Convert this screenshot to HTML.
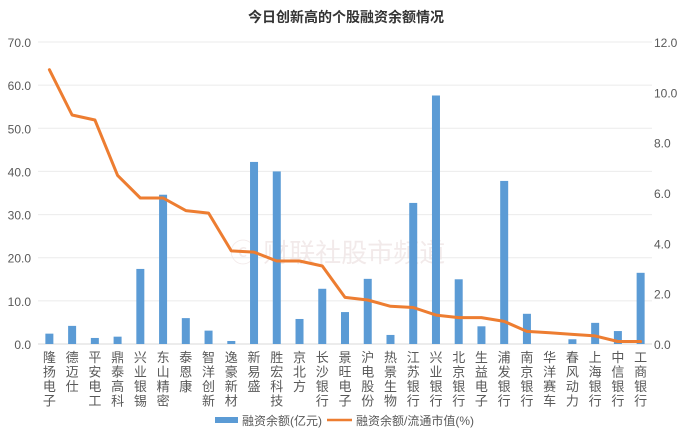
<!DOCTYPE html>
<html><head><meta charset="utf-8">
<style>
body{margin:0;background:#fff;}
svg{display:block;font-family:"Liberation Sans","Noto Sans CJK SC",sans-serif;}
</style></head>
<body>
<svg id="chart" width="693" height="437" viewBox="0 0 693 437">
<rect width="693" height="437" fill="#fff"/>
<text x="346" y="22" text-anchor="middle" font-size="14" font-weight="bold" fill="#333">今日创新高的个股融资余额情况</text>
<g id="grid"></g>
<text x="230" y="262" font-size="26" fill="#f0e6e6" opacity="0.8">ⓒ 财联社股市频道</text>
<g id="bars"></g>
<g id="line"></g>
<g id="xlabels"></g>
<g>
<rect x="215" y="417" width="23" height="6" fill="#5b9bd5"/>
<text x="242" y="425" font-size="12" fill="#595959">融资余额(亿元)</text>
<line x1="327" y1="420" x2="352" y2="420" stroke="#ed7d31" stroke-width="2.5"/>
<text x="356" y="425" font-size="12" fill="#595959">融资余额/流通市值(%)</text>
</g>
</svg>
<script>
const categories=["隆扬电子","德迈仕","平安电工","鼎泰高科","兴业银锡","东山精密","泰恩康","智洋创新","逸豪新材","新易盛","胜宏科技","京北方","长沙银行","景旺电子","沪电股份","热景生物","江苏银行","兴业银行","北京银行","生益电子","浦发银行","南京银行","华洋赛车","春风动力","上海银行","中信银行","工商银行"];
const balance=[2.4,4.2,1.4,1.7,17.4,34.6,6.0,3.1,0.7,42.2,40.0,5.8,12.8,7.4,15.1,2.1,32.7,57.6,15.0,4.1,37.8,7.0,0,1.1,4.9,3.0,16.5];
const ratio=[10.9,9.1,8.9,6.7,5.8,5.8,5.3,5.2,3.7,3.65,3.3,3.3,3.1,1.85,1.75,1.5,1.45,1.15,1.05,1.05,0.9,0.5,0.45,0.38,0.32,0.1,0.1];
const leftTicks=["0.0","10.0","20.0","30.0","40.0","50.0","60.0","70.0"];
const rightTicks=["0.0","2.0","4.0","6.0","8.0","10.0","12.0"];
const NS="http://www.w3.org/2000/svg";
const yTop=42,yBottom=344,x0=38,x1=652;
const yL=v=>yBottom-(v/70)*(yBottom-yTop);
const yR=v=>yBottom-(v/12)*(yBottom-yTop);
const step=(x1-x0)/categories.length;
const xC=i=>x0+step*(i+0.5);
function mk(tag,attrs,parent){const e=document.createElementNS(NS,tag);for(const k in attrs)e.setAttribute(k,attrs[k]);parent.appendChild(e);return e;}
const grid=document.getElementById('grid');
leftTicks.forEach((t,i)=>{
  const v=parseFloat(t),y=yL(v);
  const l=mk('line',{x1:x0,x2:x1,y1:y,y2:y,stroke:i===0?'#d9d9d9':'#ebebeb','stroke-width':1},grid);
  
  
  const tx=mk('text',{x:31,y:y+5,'text-anchor':'end','font-size':12,fill:'#595959'},grid);
  tx.textContent=t;
  
  
});
rightTicks.forEach(t=>{
  const y=yR(parseFloat(t));
  const tx=mk('text',{x:654,y:y+5,'font-size':12,fill:'#595959'},grid);
  tx.textContent=t;
  
  
});
const bars=document.getElementById('bars');
balance.forEach((v,i)=>{
  const r=mk('rect',{x:xC(i)-4,y:yL(v),width:8,height:Math.max(0,yBottom-yL(v)),fill:'#5b9bd5'},bars);
  
  
});
const pts=ratio.map((v,i)=>xC(i).toFixed(1)+','+yR(v).toFixed(1)).join(' ');
const pl=mk('polyline',{points:pts,fill:'none',stroke:'#ed7d31','stroke-width':3,'stroke-linejoin':'round','stroke-linecap':'round'},document.getElementById('line'));


const xl=document.getElementById('xlabels');
categories.forEach((c,i)=>{
  const g=mk('text',{'font-size':13,fill:'#595959','text-anchor':'middle'},xl);
  
  
  [...c].forEach((ch,j)=>{const s=mk('tspan',{x:xC(i),y:362+j*14.5},g);s.textContent=ch;});
});
</script>
</body></html>
